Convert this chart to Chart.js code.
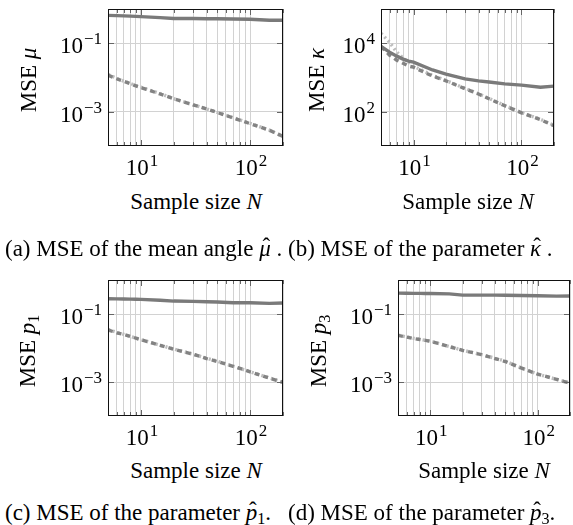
<!DOCTYPE html>
<html>
<head>
<meta charset="utf-8">
<script src="https://cdn.jsdelivr.net/npm/chart.js@4"></script>
<style>
  body { margin: 0; background: #fff; }
  #fig { position: relative; width: 573px; height: 525px; font-family: "Liberation Serif", "Times New Roman", serif; color: #000; }
  canvas { position: absolute; }
  .lbl { position: absolute; font-size: 23px; line-height: 1; white-space: nowrap; transform: translate(-50%, -50%); }
  .ylbl { transform: translate(-50%, -50%) rotate(-90deg); }
  .cap { position: absolute; font-size: 23px; line-height: 1; white-space: nowrap; transform: translateY(-50%); }
  sub { font-size: 70%; vertical-align: -0.25em; line-height: 0; }
  .hat { position: relative; display: inline-block; }
  .hat::after { content: 'ˆ'; position: absolute; left: 0.12em; right: 0; text-align: center; top: -0.08em; font-style: normal; }
</style>
</head>
<body>
<div id="fig">
  <canvas id="cMu" width="290" height="180" style="left:0;top:0"></canvas>
  <canvas id="cKappa" width="290" height="180" style="left:283px;top:0"></canvas>
  <canvas id="cP1" width="290" height="180" style="left:0;top:271px"></canvas>
  <canvas id="cP3" width="290" height="180" style="left:283px;top:271px"></canvas>

  <div class="lbl ylbl" style="left:28px;top:80px">MSE <i>μ</i></div>
  <div class="lbl ylbl" style="left:316px;top:80px">MSE <i>κ</i></div>
  <div class="lbl ylbl" style="left:27px;top:351px">MSE <i>p</i><sub>1</sub></div>
  <div class="lbl ylbl" style="left:318px;top:351px">MSE <i>p</i><sub>3</sub></div>

  <div class="lbl" style="left:196px;top:201px">Sample size <i>N</i></div>
  <div class="lbl" style="left:468px;top:201px">Sample size <i>N</i></div>
  <div class="lbl" style="left:196px;top:470px">Sample size <i>N</i></div>
  <div class="lbl" style="left:484px;top:470px">Sample size <i>N</i></div>

  <div class="cap" style="left:5px;top:248px">(a) MSE of the mean angle <i class="hat">μ</i> .</div>
  <div class="cap" style="left:288px;top:248px">(b) MSE of the parameter <i class="hat">κ</i> .</div>
  <div class="cap" style="left:5px;top:512px">(c) MSE of the parameter <i class="hat">p</i><sub>1</sub>.</div>
  <div class="cap" style="left:288px;top:512px">(d) MSE of the parameter <i class="hat">p</i><sub>3</sub>.</div>
</div>
<script>
// sample sizes N
const sampleSizes = [5, 6, 7, 8, 9, 10, 15, 20, 30, 40, 50, 70, 100, 150, 200];
const xTickValues = [5, 6, 7, 8, 9, 10, 20, 30, 40, 50, 60, 70, 80, 90, 100, 200];
const xTickExponents = { 10: '1', 100: '2' };

// (a) mean angle
const muSolid  = [0.65, 0.64, 0.63, 0.62, 0.61, 0.60, 0.56, 0.53, 0.53, 0.52, 0.52, 0.51, 0.50, 0.47, 0.47];
const muDashed = [0.0117, 0.0092, 0.0077, 0.0066, 0.0057, 0.0051, 0.0033, 0.0024, 0.0016, 0.0012, 0.00095, 0.00066, 0.00045, 0.00029, 0.00019];
const muDotted = [0.0123, 0.0095, 0.0078, 0.0067, 0.0058, 0.0052, 0.0034, 0.0024, 0.0016, 0.00121, 0.00096, 0.00067, 0.00046, 0.00029, 0.00019];

// (b) kappa
const kappaSolid  = [8100, 5500, 4200, 3450, 3000, 2800, 1660, 1260, 910, 800, 740, 650, 600, 520, 560];
const kappaDashed = [8100, 4500, 3200, 2600, 2150, 2000, 1100, 800, 470, 330, 240, 150, 93, 59, 39];
const kappaDotted = [19500, 10700, 5500, 3700, 2800, 2150, 1150, 820, 480, 335, 245, 152, 95, 60, 40];

// (c) p1
const p1Solid  = [0.28, 0.278, 0.275, 0.273, 0.271, 0.27, 0.255, 0.24, 0.235, 0.23, 0.225, 0.215, 0.215, 0.205, 0.21];
const p1Dashed = [0.034, 0.028, 0.025, 0.022, 0.0195, 0.0175, 0.012, 0.0092, 0.0066, 0.0049, 0.0040, 0.0029, 0.0020, 0.0013, 0.00098];
const p1Dotted = [0.035, 0.029, 0.025, 0.022, 0.0197, 0.0176, 0.0121, 0.0093, 0.0066, 0.0050, 0.0041, 0.0029, 0.0020, 0.00132, 0.00099];

// (d) p3
const p3Solid  = [0.41, 0.408, 0.405, 0.403, 0.401, 0.40, 0.39, 0.36, 0.36, 0.358, 0.355, 0.35, 0.345, 0.335, 0.34];
const p3Dashed = [0.0235, 0.021, 0.019, 0.0178, 0.0167, 0.0158, 0.011, 0.0085, 0.0064, 0.0049, 0.0040, 0.0026, 0.0017, 0.0012, 0.00092];
const p3Dotted = [0.024, 0.0212, 0.0192, 0.0179, 0.0168, 0.0159, 0.0111, 0.0086, 0.0064, 0.0050, 0.0041, 0.0026, 0.0017, 0.0012, 0.00093];

// y ticks (value, exponent of the 10^x label)
const smallTicks = [1e-3, 1e-1];
const smallTickExponents = ['−3', '−1'];
const kappaTicks = [1e2, 1e4];
const kappaTickExponents = ['2', '4'];

const FONT = '"Liberation Serif", "Times New Roman", serif';
Chart.defaults.font.family = FONT;
Chart.defaults.color = '#000';

// draws "10" with a raised exponent; align is 'right' or 'center'
function drawPower(ctx, exp, x, baseline, align) {
    ctx.font = '23px ' + FONT;
    const wm = ctx.measureText('10').width;
    ctx.font = '17px ' + FONT;
    const we = ctx.measureText(exp).width + 1;
    const left = align === 'right' ? x - wm - we : x - (wm + we) / 2;
    ctx.textAlign = 'left';
    ctx.textBaseline = 'alphabetic';
    ctx.fillStyle = '#000';
    ctx.font = '23px ' + FONT;
    ctx.fillText('10', left, baseline);
    ctx.font = '17px ' + FONT;
    ctx.fillText(exp, left + wm + 1, baseline - 9);
}

// box around the plot area, pgfplots-style inner tick marks and power-of-ten labels
const frame = {
    id: 'frame',
    afterDatasetsDraw(chart, args, opts) {
        const { ctx, chartArea: a, scales } = chart;
        ctx.save();
        ctx.strokeStyle = '#666';
        ctx.lineWidth = 1;
        ctx.beginPath();
        xTickValues.forEach(v => {
            const px = Math.round(scales.x.getPixelForValue(v)) + 0.5;
            const len = (v === 10 || v === 100) ? 6 : 4;
            ctx.moveTo(px, a.bottom); ctx.lineTo(px, a.bottom - len);
            ctx.moveTo(px, a.top); ctx.lineTo(px, a.top + len);
        });
        opts.yTicks.forEach(v => {
            const py = Math.round(scales.y.getPixelForValue(v)) + 0.5;
            ctx.moveTo(a.left, py); ctx.lineTo(a.left + 6, py);
            ctx.moveTo(a.right, py); ctx.lineTo(a.right - 6, py);
        });
        ctx.stroke();
        ctx.strokeStyle = '#111';
        ctx.strokeRect(a.left + 0.5, a.top + 0.5, a.right - a.left - 1, a.bottom - a.top - 1);

        opts.yTicks.forEach((v, i) => {
            drawPower(ctx, opts.yExps[i], a.left - 6, scales.y.getPixelForValue(v) + 10, 'right');
        });
        xTickValues.forEach(v => {
            if (xTickExponents[v]) {
                drawPower(ctx, xTickExponents[v], scales.x.getPixelForValue(v) + 1, a.bottom + 29, 'center');
            }
        });
        ctx.restore();
    }
};

function toPoints(values) {
    return sampleSizes.map((n, i) => ({ x: n, y: values[i] }));
}

function panel(id, area, yRange, yTicks, yExps, solid, dashed, dotted) {
    const canvas = document.getElementById(id);
    const W = canvas.width, H = canvas.height;
    return new Chart(canvas, {
        type: 'line',
        data: {
            datasets: [
                { data: toPoints(solid), borderColor: '#7a7a7a', borderWidth: 3.4, order: 1 },
                { data: toPoints(dashed), borderColor: '#838383', borderWidth: 3.4, borderDash: [5, 4], order: 2 },
                { data: toPoints(dotted), borderColor: '#bdbdbd', borderWidth: 3.4, borderDash: [2, 3], order: 3 }
            ]
        },
        options: {
            responsive: false,
            animation: false,
            layout: { padding: { left: 0, top: area.top, right: W - area.right, bottom: 0 } },
            plugins: {
                legend: { display: false },
                tooltip: { enabled: false },
                frame: { yTicks: yTicks, yExps: yExps }
            },
            elements: { point: { radius: 0 }, line: { tension: 0 } },
            scales: {
                x: {
                    type: 'logarithmic', min: 5, max: 200, bounds: 'data',
                    afterBuildTicks: s => { s.ticks = xTickValues.map(v => ({ value: v })); },
                    afterFit: s => { s.height = H - area.bottom; s.paddingLeft = 0; s.paddingRight = 0; },
                    grid: { color: '#d2d2d2', drawTicks: false },
                    border: { display: false },
                    ticks: { display: false, autoSkip: false }
                },
                y: {
                    type: 'logarithmic', min: yRange[0], max: yRange[1], bounds: 'data',
                    afterBuildTicks: s => { s.ticks = yTicks.map(v => ({ value: v })); },
                    afterFit: s => { s.width = area.left; s.paddingTop = 0; s.paddingBottom = 0; },
                    grid: { color: '#d2d2d2', drawTicks: false },
                    border: { display: false },
                    ticks: { display: false }
                }
            }
        },
        plugins: [frame]
    });
}

panel('cMu', { left: 108, right: 283, top: 9, bottom: 146 }, [1e-4, 1], smallTicks, smallTickExponents, muSolid, muDashed, muDotted);
panel('cKappa', { left: 98, right: 271, top: 9, bottom: 146 }, [10, 1e5], kappaTicks, kappaTickExponents, kappaSolid, kappaDashed, kappaDotted);
panel('cP1', { left: 108, right: 283, top: 9, bottom: 145 }, [1e-4, 1], smallTicks, smallTickExponents, p1Solid, p1Dashed, p1Dotted);
panel('cP3', { left: 115, right: 287, top: 9, bottom: 145 }, [1e-4, 1], smallTicks, smallTickExponents, p3Solid, p3Dashed, p3Dotted);
</script>
</body>
</html>
